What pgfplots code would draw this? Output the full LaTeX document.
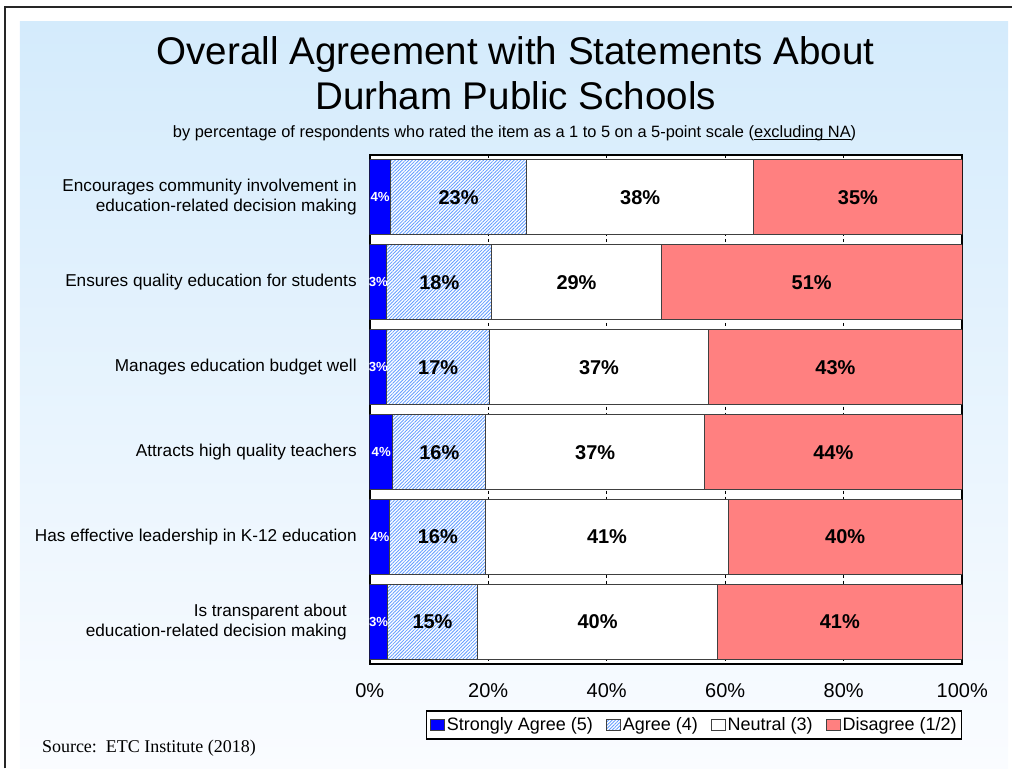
\documentclass[border=0pt]{standalone}
\usepackage{pgfplots}
\pgfplotsset{compat=1.18}
\usetikzlibrary{patterns.meta}
\usepackage{fontspec}
\setmainfont{Liberation Sans}
\newfontfamily\serif{Liberation Serif}
\newcommand\ul[1]{\setbox0\hbox{#1}\rlap{\rule[-1.3pt]{\wd0}{0.45pt}}\box0}
\definecolor{sablue}{RGB}{0,0,255}
\definecolor{hatch}{RGB}{100,158,255}
\definecolor{disagree}{RGB}{255,128,128}
\definecolor{bgtop}{RGB}{212,235,252}
\definecolor{bgbot}{RGB}{250,252,255}
\pgfplotsset{
  frame/.style={at={(185pt,52pt)}, anchor=south west,
    scale only axis, width=296.5pt, height=255pt,
    xmin=0, xmax=100, ymin=-0.5, ymax=5.5, y dir=reverse},
}
\begin{document}
\begin{tikzpicture}[x=1pt,y=1pt]
% page and background
\path (0,0) rectangle (506.5,384.5);
\shade[top color=bgtop, bottom color=bgbot] (10,0) rectangle (504.5,373.5);
\draw[line width=0.8pt, black!85] (2.5,0) -- (2.5,381) -- (506.5,381);
\node[align=center, font=\fontsize{19.3}{22.5}\selectfont] at (258,348)
  {Overall Agreement with Statements About\\Durham Public Schools};
\node[font=\fontsize{8.2}{10}\selectfont] at (257.5,318)
  {by percentage of respondents who rated the item as a 1 to 5 on a 5-point scale (\ul{excluding NA})};
\node[anchor=base west, font=\serif\fontsize{9}{11}\selectfont] at (17.5,8)
  {Source:\ \ ETC Institute (2018)};
\begin{axis}[frame,
  xbar stacked, bar width=0.88,
  axis background/.style={fill=white},
  axis line style={line width=1pt, black},
  xtick={0,20,...,100}, xticklabel={\pgfmathprintnumber{\tick}\%},
  /pgf/number format/assume math mode=true,
  xticklabel style={font=\fontsize{10}{12}\selectfont, yshift=-6pt},
  ytick={0,...,5},
  yticklabels={{Encourages community involvement in\\education-related decision making},
    {Ensures quality education for students},
    {Manages education budget well},
    {Attracts high quality teachers},
    {Has effective leadership in K-12 education},
    {Is transparent about\hspace*{5pt}\\education-related decision making\hspace*{5pt}}},
  yticklabel style={align=right, font=\fontsize{8.6}{10.2}\selectfont, xshift=-3pt},
  major tick length=0,
  xmajorgrids, major grid style={black, line width=0.5pt, dash pattern=on 1.5pt off 1.5pt},
  legend image code/.code={\draw[#1] (0pt,-2.8pt) rectangle (7pt,2.8pt);},
  legend columns=-1,
  legend style={at={(1,0)}, anchor=north east, yshift=-23pt, draw=black, line width=0.6pt,
    font=\fontsize{9}{10}\selectfont, inner xsep=1.5pt, inner ysep=2pt,
    /tikz/every even column/.append style={column sep=5.5pt},
    nodes={inner sep=1pt}},
]
\addplot[fill=sablue, draw=black!75, line width=0.5pt]
  coordinates {(3.5,0) (2.9,1) (2.9,2) (3.9,3) (3.4,4) (3.0,5)};
\addplot[fill=white, draw=black!75, line width=0.5pt,
  postaction={pattern={Lines[angle=45,distance=1.2pt,line width=0.42pt]}, pattern color=hatch}]
  coordinates {(23.0,0) (17.7,1) (17.3,2) (15.7,3) (16.2,4) (15.2,5)};
\addplot[fill=white, draw=black!75, line width=0.5pt]
  coordinates {(38.3,0) (28.6,1) (37.0,2) (36.9,3) (40.9,4) (40.5,5)};
\addplot[fill=disagree, draw=black!75, line width=0.5pt]
  coordinates {(35.2,0) (50.8,1) (42.8,2) (43.5,3) (39.5,4) (41.3,5)};
\legend{Strongly Agree (5), Agree (4), Neutral (3), Disagree (1/2)}
\end{axis}
% value labels at the middle of each segment
\begin{axis}[frame, hide axis,
  point meta=explicit symbolic,
  nodes near coords={\pgfplotspointmeta},
  nodes near coords align={center},
  every node near coord/.append style={anchor=center, font=\bfseries\fontsize{10}{12}\selectfont},
]
\addplot[draw=none, every node near coord/.append style={white, inner sep=0pt, font=\bfseries\fontsize{6.6}{7}\selectfont}]
  coordinates {(1.75,0)[4\%] (1.45,1)[3\%] (1.45,2)[3\%] (1.95,3)[4\%] (1.7,4)[4\%] (1.5,5)[3\%]};
\addplot[draw=none]
  coordinates {(15.0,0)[23\%] (11.75,1)[18\%] (11.55,2)[17\%] (11.75,3)[16\%] (11.5,4)[16\%] (10.6,5)[15\%]};
\addplot[draw=none]
  coordinates {(45.65,0)[38\%] (34.9,1)[29\%] (38.7,2)[37\%] (38.05,3)[37\%] (40.05,4)[41\%] (38.45,5)[40\%]};
\addplot[draw=none]
  coordinates {(82.4,0)[35\%] (74.6,1)[51\%] (78.6,2)[43\%] (78.25,3)[44\%] (80.25,4)[40\%] (79.35,5)[41\%]};
\end{axis}
\end{tikzpicture}
\end{document}
